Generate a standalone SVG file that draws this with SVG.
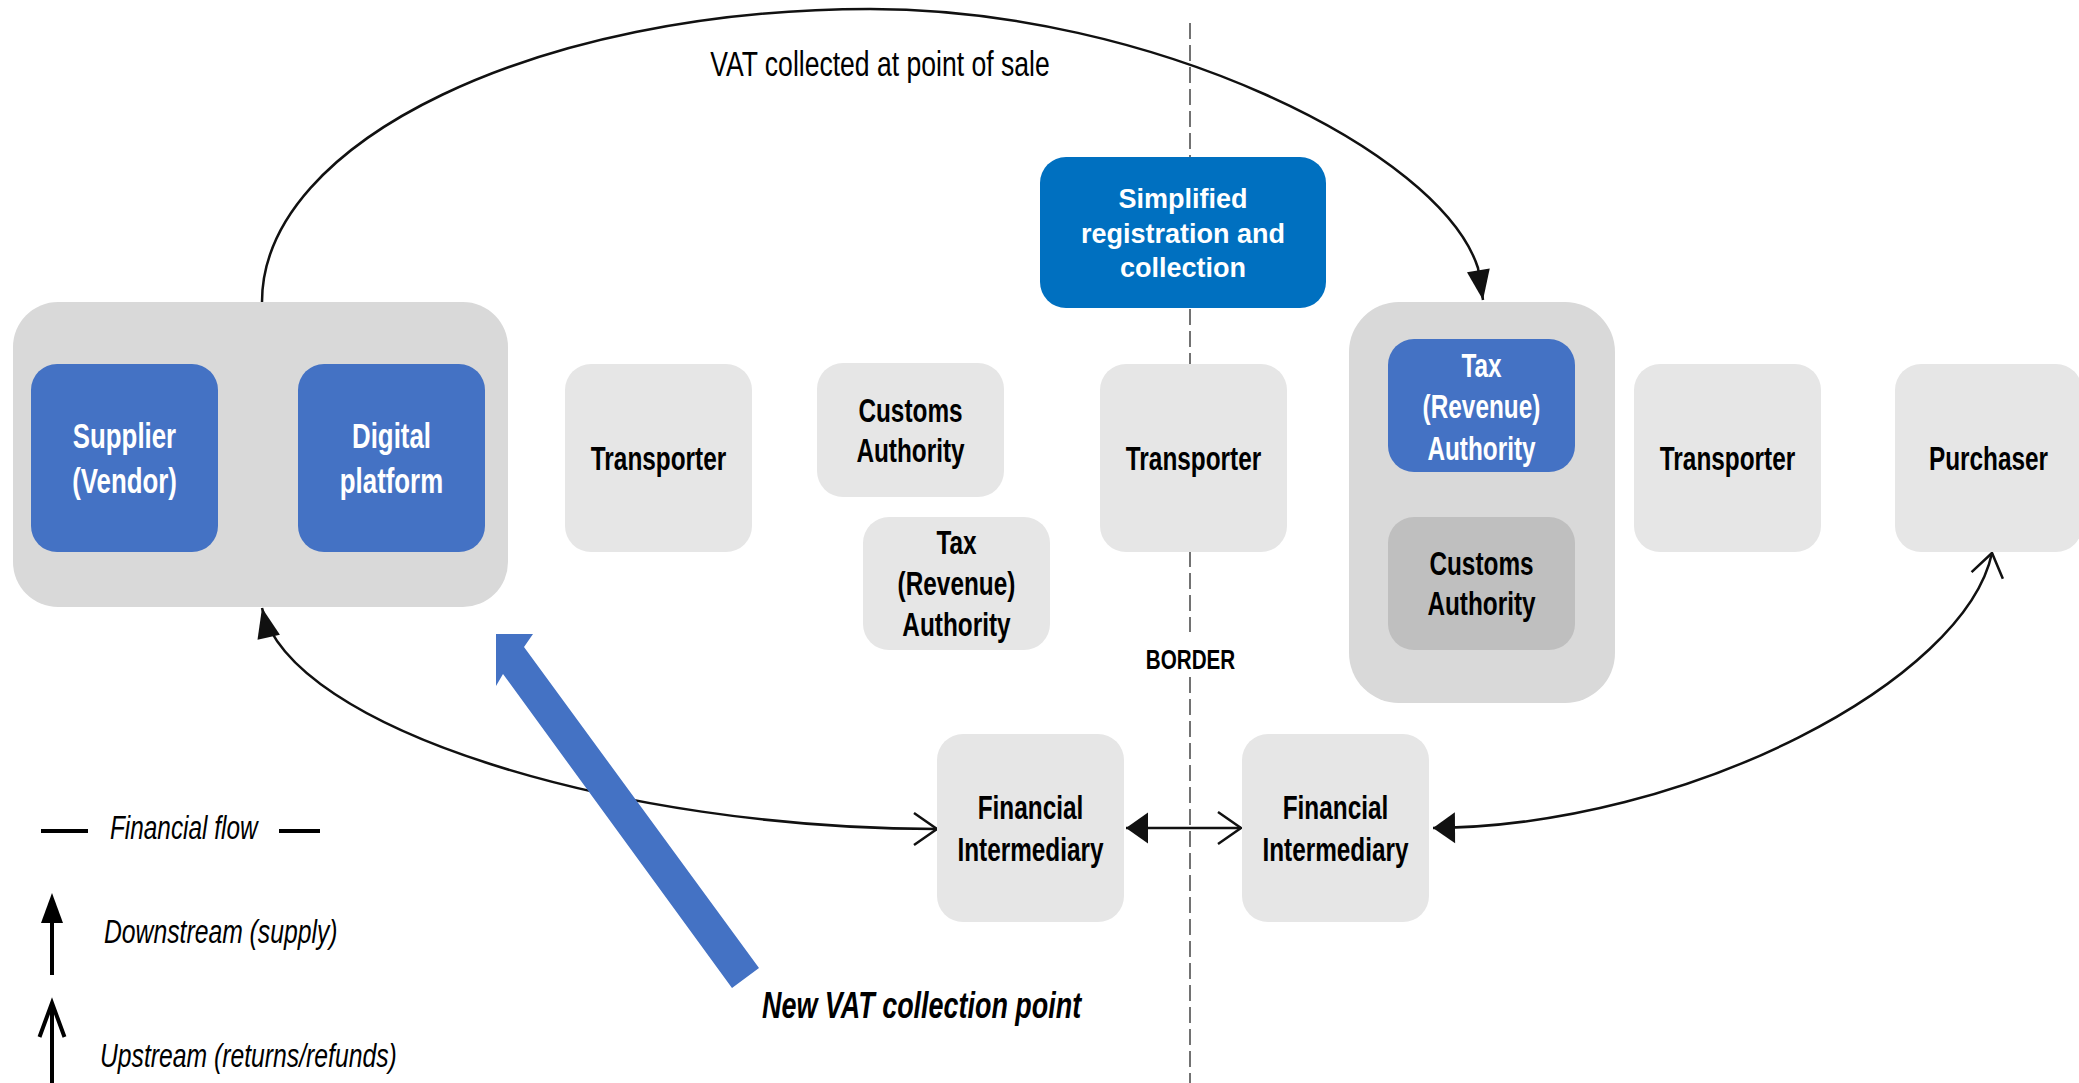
<svg xmlns="http://www.w3.org/2000/svg" width="2079" height="1083" viewBox="0 0 2079 1083">
<style>
.bg{fill:#FFFFFF}
.container{fill:#D9D9D9}
.node{fill:#E6E6E6}
.blue{fill:#4472C4}
.simp{fill:#0070C0}
.dark{fill:#BFBFBF}
.lbl{font-family:"Liberation Sans",Arial,sans-serif;font-weight:bold;font-size:33px;fill:#000;text-anchor:middle}
.lbl.w{fill:#FFFFFF}
.big{font-size:35px}
.simpt{font-family:"Liberation Sans",Arial,sans-serif;font-weight:bold;font-size:27px;fill:#FFFFFF;text-anchor:middle}
.plain{font-family:"Liberation Sans",Arial,sans-serif;fill:#000}
.it{font-style:italic}
.conn{fill:none;stroke:#111;stroke-width:2.5}
.border{fill:none;stroke:#444;stroke-width:1.5;stroke-dasharray:16 6}
.leg{fill:none;stroke:#000;stroke-width:4}
</style>
<defs>
<marker id="arrowA" markerUnits="userSpaceOnUse" markerWidth="40" markerHeight="40" refX="30" refY="11.5" orient="auto-start-reverse" overflow="visible">
<path d="M0,0 L30,11.5 L0,23 Z" fill="#111"/>
</marker>
<marker id="arrowB" markerUnits="userSpaceOnUse" markerWidth="40" markerHeight="40" refX="22" refY="15.5" orient="auto-start-reverse" overflow="visible">
<path d="M0,0 L22,15.5 L0,31 Z" fill="#111"/>
</marker>
<marker id="chev" markerUnits="userSpaceOnUse" markerWidth="40" markerHeight="40" refX="23" refY="16" orient="auto-start-reverse" overflow="visible">
<path d="M0,0 L23,16 L0,32" fill="none" stroke="#111" stroke-width="2.5"/>
</marker>
<marker id="arrowLeg" markerUnits="userSpaceOnUse" markerWidth="40" markerHeight="40" refX="0" refY="11" orient="auto" overflow="visible">
<path d="M0,0 L30,11 L0,22 Z" fill="#000"/>
</marker>
<marker id="chevLeg" markerUnits="userSpaceOnUse" markerWidth="40" markerHeight="40" refX="34" refY="12.5" orient="auto" overflow="visible">
<path d="M0,0 L34,12.5 L0,25" fill="none" stroke="#000" stroke-width="4"/>
</marker>
</defs>
<rect class="bg" x="0" y="0" width="2079" height="1083"/>

<g id="connectors">
<path id="border-line" class="border" d="M1190,23 V632 M1190,677 V1083"/>
<path id="vat-arc" class="conn" d="M262,302 C262,140 540,9 870,9 C1150,9 1440,150 1478,268 L1483,300" marker-end="url(#arrowA)"/>
<path id="fi-supplier" class="conn" d="M937,829 C620,829 290,730 262,608" marker-start="url(#chev)" marker-end="url(#arrowA)"/>
<path id="fi-fi" class="conn" d="M1126,828 H1241" marker-start="url(#arrowB)" marker-end="url(#chev)"/>
<path id="fi-purchaser" class="conn" d="M1433,828 C1690,826 1965,680 1992,553" marker-start="url(#arrowB)" marker-end="url(#chev)"/>
</g>

<g id="seller-group">
<rect class="container" x="13" y="302" width="495" height="305" rx="45"/>
</g>
<g id="supplier">
<rect class="blue" x="31" y="364" width="187" height="188" rx="26"/>
<text class="lbl w big" transform="matrix(0.738 0 0 1 32.62 0)"><tspan x="124.5" y="448">Supplier</tspan><tspan x="124.5" y="493">(Vendor)</tspan></text>
</g>
<g id="digital-platform">
<rect class="blue" x="298" y="364" width="187" height="188" rx="26"/>
<text class="lbl w big" transform="matrix(0.738 0 0 1 102.57 0)"><tspan x="391.5" y="448">Digital</tspan><tspan x="391.5" y="493">platform</tspan></text>
</g>
<g id="transporter-1">
<rect class="node" x="565" y="364" width="187" height="188" rx="26"/>
<text class="lbl" transform="matrix(0.738 0 0 1 172.53 0)"><tspan x="658.5" y="470">Transporter</tspan></text>
</g>
<g id="customs-left">
<rect class="node" x="817" y="363" width="187" height="134" rx="26"/>
<text class="lbl" transform="matrix(0.738 0 0 1 238.55 0)"><tspan x="910.5" y="422">Customs</tspan><tspan x="910.5" y="462">Authority</tspan></text>
</g>
<g id="tax-left">
<rect class="node" x="863" y="517" width="187" height="133" rx="26"/>
<text class="lbl" transform="matrix(0.738 0 0 1 250.6 0)"><tspan x="956.5" y="554">Tax</tspan><tspan x="956.5" y="595">(Revenue)</tspan><tspan x="956.5" y="636">Authority</tspan></text>
</g>
<g id="simplified">
<rect class="simp" x="1040" y="157" width="286" height="151" rx="26"/>
<text class="simpt"><tspan x="1183" y="208">Simplified</tspan><tspan x="1183" y="243">registration and</tspan><tspan x="1183" y="277">collection</tspan></text>
</g>
<g id="transporter-2">
<rect class="node" x="1100" y="364" width="187" height="188" rx="26"/>
<text class="lbl" transform="matrix(0.738 0 0 1 312.7 0)"><tspan x="1193.5" y="470">Transporter</tspan></text>
</g>
<g id="destination-group">
<rect class="container" x="1349" y="302" width="266" height="401" rx="50"/>
</g>
<g id="tax-right">
<rect class="blue" x="1388" y="339" width="187" height="133" rx="26"/>
<text class="lbl w" transform="matrix(0.738 0 0 1 388.15 0)"><tspan x="1481.5" y="377">Tax</tspan><tspan x="1481.5" y="418">(Revenue)</tspan><tspan x="1481.5" y="460">Authority</tspan></text>
</g>
<g id="customs-right">
<rect class="dark" x="1388" y="517" width="187" height="133" rx="26"/>
<text class="lbl" transform="matrix(0.738 0 0 1 388.15 0)"><tspan x="1481.5" y="575">Customs</tspan><tspan x="1481.5" y="615">Authority</tspan></text>
</g>
<g id="transporter-3">
<rect class="node" x="1634" y="364" width="187" height="188" rx="26"/>
<text class="lbl" transform="matrix(0.738 0 0 1 452.61 0)"><tspan x="1727.5" y="470">Transporter</tspan></text>
</g>
<g id="purchaser">
<rect class="node" x="1895" y="364" width="187" height="188" rx="26"/>
<text class="lbl" transform="matrix(0.738 0 0 1 520.99 0)"><tspan x="1988.5" y="470">Purchaser</tspan></text>
</g>
<g id="fi-left">
<rect class="node" x="937" y="734" width="187" height="188" rx="26"/>
<text class="lbl" transform="matrix(0.738 0 0 1 269.99 0)"><tspan x="1030.5" y="819">Financial</tspan><tspan x="1030.5" y="861">Intermediary</tspan></text>
</g>
<g id="fi-right">
<rect class="node" x="1242" y="734" width="187" height="188" rx="26"/>
<text class="lbl" transform="matrix(0.738 0 0 1 349.9 0)"><tspan x="1335.5" y="819">Financial</tspan><tspan x="1335.5" y="861">Intermediary</tspan></text>
</g>

<g id="labels">
<text class="plain" font-size="36" text-anchor="middle" transform="matrix(0.738 0 0 1 230.56 0)" x="880" y="76">VAT collected at point of sale</text>
<text class="plain" font-size="28" font-weight="bold" text-anchor="middle" transform="matrix(0.738 0 0 1 311.91 0)" x="1190.5" y="669">BORDER</text>
</g>

<g id="new-vat-point">
<polygon class="blue" points="496,634 533,634 524,647 759,968 732,988 503,674 496,686"/>
<text class="plain it" font-weight="bold" font-size="36.5" transform="matrix(0.738 0 0 1 199.64 0)" x="762" y="1018">New VAT collection point</text>
</g>

<g id="legend">
<line class="leg" x1="41" y1="831" x2="88" y2="831"/>
<line class="leg" x1="279" y1="831" x2="320" y2="831"/>
<text class="plain it" font-size="33" transform="matrix(0.738 0 0 1 28.82 0)" x="110" y="839">Financial flow</text>
<path class="leg" d="M52,975 V923" marker-end="url(#arrowLeg)"/>
<text class="plain it" font-size="33.5" transform="matrix(0.738 0 0 1 27.25 0)" x="104" y="943">Downstream (supply)</text>
<path class="leg" d="M52,1083 V1003" marker-end="url(#chevLeg)"/>
<text class="plain it" font-size="33.5" transform="matrix(0.738 0 0 1 26.2 0)" x="100" y="1067">Upstream (returns/refunds)</text>
</g>
</svg>
